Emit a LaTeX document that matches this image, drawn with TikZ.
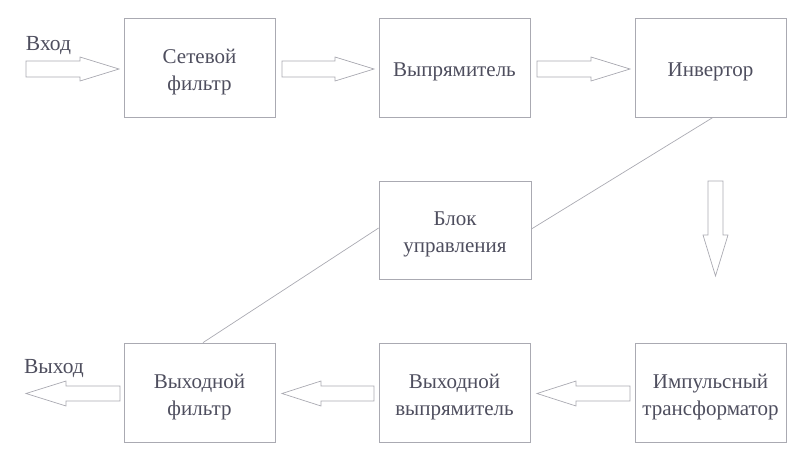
\documentclass[tikz,border=0pt]{standalone}
\usepackage{fontspec}
\setmainfont{Liberation Serif}
\usetikzlibrary{calc}
\definecolor{txt}{HTML}{4E4E5E}
\definecolor{ln}{HTML}{AAAAB2}
\begin{document}
\begin{tikzpicture}[x=1pt,y=-1pt,
  boxtxt/.style={text=txt,align=center,inner sep=0pt,font=\fontsize{21}{26.5}\selectfont,yshift=-4.5pt},
  blk/.style={draw=ln,line width=0.8pt,minimum width=151pt,minimum height=99pt,inner sep=0pt,label={[boxtxt]center:#1}},
  barrow/.style={draw=ln,line width=0.7pt,fill=white},
  lbl/.style={text=txt,font=\fontsize{21.5}{25}\selectfont,inner sep=0pt}]
\useasboundingbox (0,0) rectangle (800,450);
\node[blk={Сетевой\\фильтр}] (f1) at (199.5,67.5) {};
\node[blk={Выпрямитель}] (v1) at (454.5,67.5) {};
\node[blk={Инвертор}] (inv) at (710.5,67.5) {};
\node[blk={Блок\\управления},minimum width=152pt,minimum height=98pt] (ctl) at (455,230) {};
\node[blk={Выходной\\фильтр}] (of) at (199.5,392.5) {};
\node[blk={Выходной\\выпрямитель}] (ov) at (454.5,392.5) {};
\node[blk={Импульсный\\трансформатор}] (imp) at (710.5,392.5) {};
\node[lbl,anchor=base] (in) at (48.5,50) {Вход};
\node[lbl,anchor=base] (out) at (54,373) {Выход};
% block arrows (right)
\draw[barrow] (26,61) -- (80,61) -- (80,57) -- (119,69) -- (80,81) -- (80,77) -- (26,77) -- cycle;
\draw[barrow] (282,61) -- (335,61) -- (335,57) -- (374,69) -- (335,81) -- (335,77) -- (282,77) -- cycle;
\draw[barrow] (537,61) -- (591,61) -- (591,57) -- (630,69) -- (591,81) -- (591,77) -- (537,77) -- cycle;
% down arrow
\draw[barrow] (708,181) -- (723,181) -- (723,235) -- (728,235) -- (715.5,276) -- (703,235) -- (708,235) -- cycle;
% left arrows
\draw[barrow] (630,386) -- (576,386) -- (576,381) -- (537,393.5) -- (576,406) -- (576,401) -- (630,401) -- cycle;
\draw[barrow] (374,386) -- (321,386) -- (321,381) -- (282,393.5) -- (321,406) -- (321,401) -- (374,401) -- cycle;
\draw[barrow] (120,386) -- (66,386) -- (66,381) -- (26,393.5) -- (66,406) -- (66,401) -- (120,401) -- cycle;
% control lines
\draw[ln,line width=0.7pt] ($(inv.south)+(2.5,0)$) -- ($(ctl.east)+(0,-1)$);
\draw[ln,line width=0.7pt] ($(ctl.west)+(0,-2)$) -- ($(of.north)+(3.5,0)$);
\end{tikzpicture}
\end{document}
